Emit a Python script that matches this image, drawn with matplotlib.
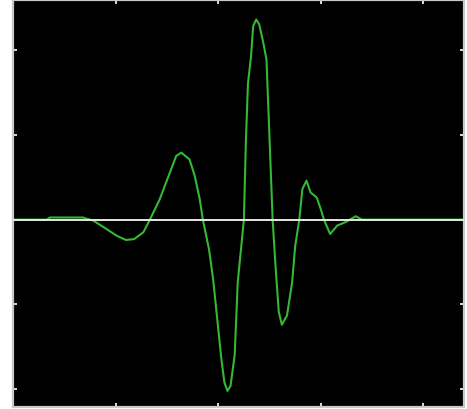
import matplotlib
matplotlib.use('Agg')
import matplotlib.pyplot as plt

# wavelet trace (x and y in tick units)
wave_x = [0.00, 0.33, 0.36, 0.68, 0.72, 0.78, 0.91, 1.01, 1.10, 1.18, 1.27, 1.33,
          1.43, 1.48, 1.54, 1.59, 1.64, 1.72, 1.77, 1.82, 1.85, 1.91, 1.95, 1.99,
          2.03, 2.06, 2.09, 2.12, 2.16, 2.19, 2.25, 2.27, 2.29, 2.32, 2.34, 2.37,
          2.40, 2.44, 2.47, 2.50, 2.53, 2.56, 2.59, 2.62, 2.67, 2.72, 2.75, 2.79,
          2.82, 2.86, 2.90, 2.96, 3.00, 3.03, 3.09, 3.16, 3.24, 3.34, 3.40, 4.39]
wave_y = [0.00, 0.00, 0.025, 0.025, 0.01, -0.01, -0.11, -0.19, -0.24, -0.23, -0.15, -0.01,
          0.24, 0.40, 0.59, 0.75, 0.79, 0.71, 0.52, 0.24, 0.00, -0.35, -0.70, -1.17,
          -1.64, -1.92, -2.02, -1.96, -1.60, -0.74, 0.00, 0.95, 1.61, 1.93, 2.28, 2.36,
          2.30, 2.08, 1.89, 0.95, 0.00, -0.58, -1.09, -1.24, -1.13, -0.74, -0.31, 0.00,
          0.36, 0.46, 0.32, 0.26, 0.12, 0.00, -0.17, -0.07, -0.03, 0.04, 0.00, 0.00]

x_ticks = [1, 2, 3, 4]
y_ticks = [-2, -1, 0, 1, 2]

fig = plt.figure(figsize=(4.67, 4.10), dpi=100)
ax = fig.add_axes([13 / 467, 2 / 410, 450.5 / 467, 407 / 410])
ax.set_facecolor('black')

ax.plot(wave_x, wave_y, color='#35b835', linewidth=1.5, zorder=2)
ax.axhline(0, color='#e6e6e6', linewidth=1.4, zorder=3)

ax.set_xlim(0, 4.39)
ax.set_ylim(-2.21, 2.59)
ax.set_xticks(x_ticks)
ax.set_yticks(y_ticks)
ax.tick_params(direction='in', length=3, width=1.2, color='white',
               top=True, right=True, labelbottom=False, labelleft=False)
for s in ax.spines.values():
    s.set_color('#c8c8c8')
    s.set_linewidth(1.6)

plt.savefig('out.png', dpi=100)
